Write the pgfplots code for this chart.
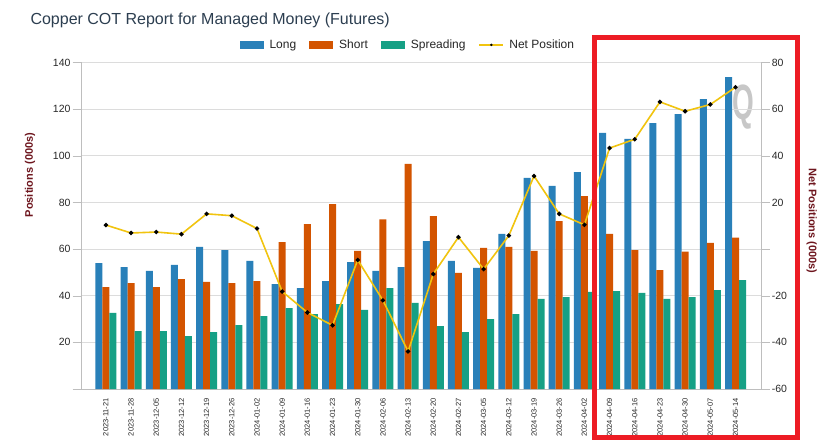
\documentclass[border=0pt]{standalone}
\usepackage{pgfplots}
\pgfplotsset{compat=1.18}
\usepackage{pgfplotstable}
\usepackage{fontspec}
\setmainfont{Liberation Sans}
\definecolor{longc}{RGB}{41,128,185}
\definecolor{shortc}{RGB}{211,84,0}
\definecolor{spreadc}{RGB}{22,160,133}
\definecolor{netc}{RGB}{241,196,15}
\definecolor{titlec}{RGB}{44,62,80}
\definecolor{labc}{RGB}{110,22,30}
\definecolor{axc}{RGB}{190,190,190}
\definecolor{gridc}{RGB}{220,220,220}
\definecolor{tickc}{RGB}{40,40,40}
\definecolor{redbox}{RGB}{237,28,36}

\pgfplotstableread{
x long short spread net
0 54.0 43.7 32.6 10.3
1 52.3 45.4 24.8 6.9
2 50.6 43.7 24.8 7.3
3 53.2 47.1 22.7 6.4
4 60.9 45.9 24.4 15.1
5 59.6 45.4 27.4 14.3
6 54.9 46.3 31.3 8.8
7 45.0 63.0 34.7 -18.2
8 43.3 70.7 32.1 -27.2
9 46.3 79.3 36.4 -32.7
10 54.4 59.2 33.9 -4.7
11 50.6 72.7 43.3 -22.0
12 52.3 96.5 36.9 -43.9
13 63.4 74.1 27.0 -10.7
14 54.9 49.8 24.4 5.1
15 51.9 60.5 30.0 -8.6
16 66.5 60.9 32.1 5.8
17 90.5 59.2 38.6 31.3
18 87.1 72.0 39.4 15.1
19 93.0 82.7 41.6 10.4
20 109.8 66.5 42.0 43.3
21 107.2 59.6 41.2 47.1
22 114.0 51.0 38.6 63.1
23 117.9 58.9 39.4 59.1
24 124.3 62.7 42.4 62.0
25 133.7 64.9 46.7 69.4
}\datatable

\begin{document}
\begin{tikzpicture}
\path[fill=white] (0pt,0pt) rectangle (836pt,445pt);
% watermark
\node[text=black!22, font=\bfseries\fontsize{31}{31}\selectfont, xscale=0.9, yscale=1.6] at (743pt,338pt) {Q};

\begin{axis}[
  at={(80.7pt,56pt)}, anchor=south west,
  scale only axis, width=680pt, height=326.5pt,
  xmin=-1, xmax=26, ymin=0, ymax=140,
  axis x line*=bottom, axis y line*=left,
  axis line style={draw=axc, -},
  ytick={0,20,...,140},
  yticklabels={,20,40,60,80,100,120,140},
  ymajorgrids, grid style={draw=gridc, line width=0.8pt},
  tick align=outside, major tick length=8pt,
  ytick style={draw=axc},
  xtick={0,...,25},
  xtick style={draw=none},
  xticklabels={2023-11-21,2023-11-28,2023-12-05,2023-12-12,2023-12-19,2023-12-26,2024-01-02,2024-01-09,2024-01-16,2024-01-23,2024-01-30,2024-02-06,2024-02-13,2024-02-20,2024-02-27,2024-03-05,2024-03-12,2024-03-19,2024-03-26,2024-04-02,2024-04-09,2024-04-16,2024-04-23,2024-04-30,2024-05-07,2024-05-14},
  xticklabel style={rotate=90, anchor=east, font=\fontsize{7.5}{9}\selectfont, text=tickc, inner sep=1pt},
  yticklabel style={font=\fontsize{10.5}{12}\selectfont, text=tickc, inner sep=2pt},
  /pgf/number format/assume math mode=true,
  legend columns=4,
  legend style={at={(0.481,1.054)}, anchor=center, draw=none, fill=none,
    font=\fontsize{12}{14}\selectfont, text=black!85,
    /tikz/every even column/.append style={column sep=11pt}},
  ybar, bar width=7pt,
]
\addplot[forget plot, fill=longc, draw=none, bar shift=-7pt] table[x=x,y=long] {\datatable};
\addplot[forget plot, fill=shortc, draw=none, bar shift=0pt] table[x=x,y=short] {\datatable};
\addplot[forget plot, fill=spreadc, draw=none, bar shift=7pt] table[x=x,y=spread] {\datatable};
\addlegendimage{legend image code/.code={\fill[longc, draw=none] (0pt,-4pt) rectangle (24pt,4pt); \path[draw=none, fill=none] (0pt,0pt) -- (28pt,0pt);}}
\addlegendentry{Long}
\addlegendimage{legend image code/.code={\fill[shortc, draw=none] (0pt,-4pt) rectangle (24pt,4pt); \path[draw=none, fill=none] (0pt,0pt) -- (28pt,0pt);}}
\addlegendentry{Short}
\addlegendimage{legend image code/.code={\fill[spreadc, draw=none] (0pt,-4pt) rectangle (24pt,4pt); \path[draw=none, fill=none] (0pt,0pt) -- (28pt,0pt);}}
\addlegendentry{Spreading}
\addlegendimage{legend image code/.code={\draw[netc, line width=1.5pt] (0pt,0pt) -- (24pt,0pt); \fill[black, draw=none] (12pt,0pt) circle (1.3pt); \path[draw=none, fill=none] (0pt,0pt) -- (28pt,0pt);}}
\addlegendentry{Net Position}
\end{axis}

\begin{axis}[
  at={(80.7pt,56pt)}, anchor=south west,
  scale only axis, width=680pt, height=326.5pt,
  xmin=-1, xmax=26, ymin=-60, ymax=80,
  axis x line=none, axis y line*=right,
  axis line style={draw=axc, -},
  ytick={-60,-40,...,80},
  yticklabels={-60,-40,-20,,20,40,60,80},
  tick align=outside, major tick length=9pt,
  ytick style={draw=axc},
  yticklabel style={font=\fontsize{10.5}{12}\selectfont, text=tickc, inner sep=2pt},
  /pgf/number format/assume math mode=true,
]
\addplot[netc, line width=1.6pt, mark=*, mark size=1.3pt, mark options={fill=black, draw=black}] table[x=x,y=net] {\datatable};
\end{axis}

\node[anchor=base west, text=titlec, font=\fontsize{16}{19}\selectfont] at (27pt,420.5pt) {Copper COT Report for Managed Money (Futures)};
\node[rotate=90, text=labc, font=\bfseries\fontsize{11}{13}\selectfont] at (30pt,270pt) {Positions (000s)};
\node[rotate=-90, text=labc, font=\bfseries\fontsize{11}{13}\selectfont] at (811.7pt,224pt) {Net Positions (000s)};
\draw[redbox, line width=5pt] (594.8pt,407.5pt) rectangle (797.2pt,7.5pt);
\end{tikzpicture}
\end{document}
